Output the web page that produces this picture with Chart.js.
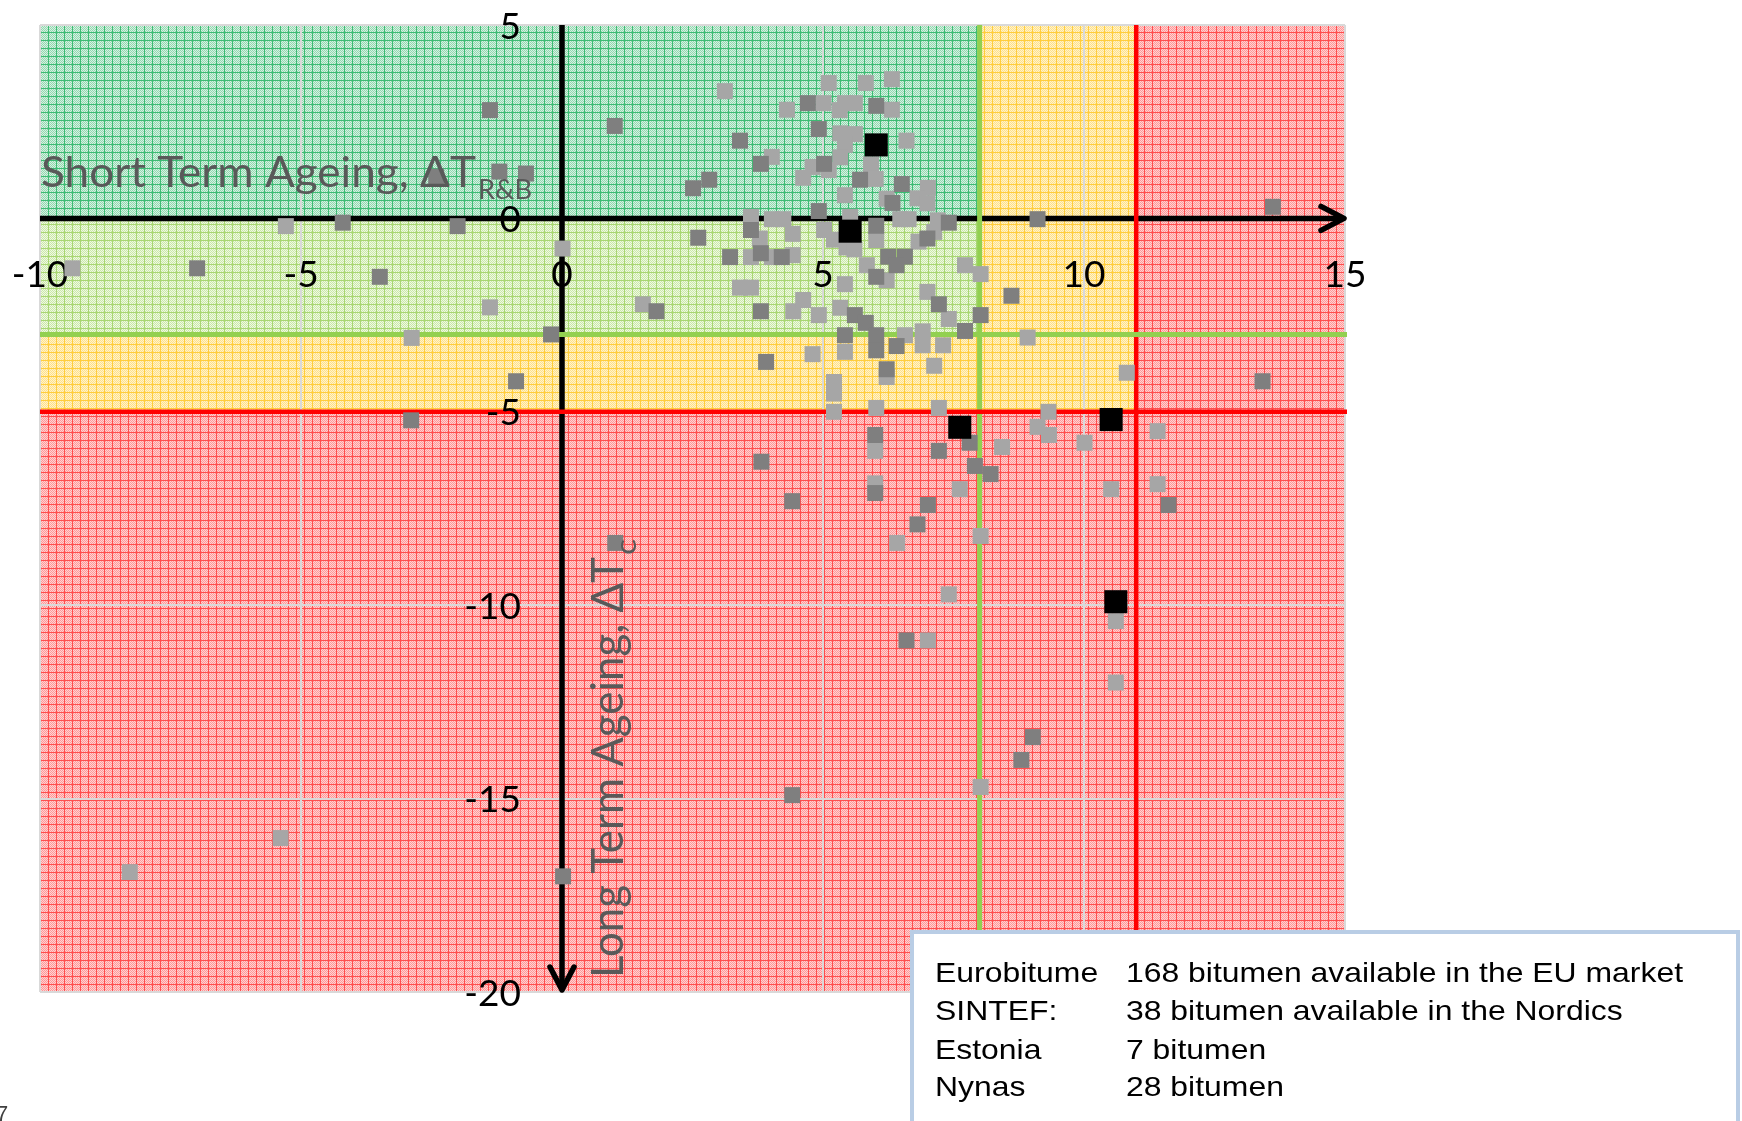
<!DOCTYPE html>
<html>
<head>
<meta charset="utf-8">
<title>Short and long term ageing of bitumen</title>
<script src="https://cdn.jsdelivr.net/npm/chart.js@4.4.1/dist/chart.umd.min.js"></script>
<style>
  html, body { margin: 0; padding: 0; background: #ffffff; overflow: hidden; }
  #wrap { position: relative; width: 1742px; height: 1121px; }
  canvas { display: block; }
</style>
</head>
<body>
<div id="wrap"><canvas id="chart" width="1742" height="1121"></canvas></div>
<script>
// ---- axis ticks -------------------------------------------------------
const xTicks = [-10, -5, 0, 5, 10, 15];
const yTicks = [5, 0, -5, -10, -15, -20];

// ---- ageing limits (°C) -----------------------------------------------
const shortTermGreen = 8;    // ΔT R&B, green/yellow limit
const shortTermRed = 11;     // ΔT R&B, yellow/red limit
const longTermGreen = -3;    // ΔTc, green/yellow limit
const longTermRed = -5;      // ΔTc, yellow/red limit

// ---- bitumen results [ΔT R&B, ΔTc] ------------------------------------
const eurobitume = [
  [3.12, 3.29], [5.11, 3.50], [5.82, 3.50], [6.32, 3.60], [5.01, 2.98], [5.42, 2.98], [5.61, 2.98],
  [5.32, 2.80], [6.32, 2.81], [4.31, 2.81], [5.33, 2.20], [5.61, 2.18], [6.60, 2.01], [5.42, 1.90],
  [4.02, 1.59], [5.33, 1.58], [4.80, 1.33], [5.11, 1.25], [4.62, 1.05], [5.92, 1.40], [6.01, 1.02],
  [7.01, 0.79], [5.42, 0.60], [6.22, 0.51], [6.81, 0.52], [7.00, 0.39], [3.62, 0.04], [4.02, -0.02],
  [4.24, -0.02], [5.52, 0.04], [6.48, -0.02], [6.64, -0.02], [7.20, -0.05], [7.13, -0.35],
  [4.42, -0.40], [4.42, -0.95], [5.02, -0.30], [6.02, -0.56], [6.83, -0.60], [5.21, -0.55],
  [5.45, -0.75], [5.60, -0.80], [3.79, -0.52], [3.62, -1.00], [4.02, -1.00], [5.84, -1.21],
  [6.22, -1.60], [5.42, -1.70], [3.41, -1.79], [3.62, -1.79], [7.72, -1.21], [8.02, -1.44],
  [7.00, -1.90], [7.41, -2.60], [1.55, -2.22], [4.43, -2.40], [4.62, -2.11], [4.92, -2.50],
  [5.33, -2.31], [5.42, -3.45], [6.57, -3.02], [6.91, -2.92], [6.91, -3.28], [7.30, -3.28],
  [4.80, -3.51], [6.22, -4.10], [7.13, -3.81], [5.21, -4.23], [5.21, -4.53], [5.21, -5.00],
  [6.02, -4.90], [7.22, -4.90], [10.82, -3.99], [9.32, -5.00], [9.11, -5.39], [9.33, -5.60],
  [10.01, -5.80], [11.41, -5.50], [6.00, -6.01], [8.43, -5.91], [7.62, -7.00], [10.52, -7.00],
  [11.41, -6.87], [6.00, -6.85], [6.42, -8.39], [8.02, -8.21], [7.41, -9.72], [10.61, -10.41],
  [7.01, -10.91], [10.61, -12.00], [8.02, -14.70], [8.92, -3.08], [-5.29, -0.20], [0.01, -0.78],
  [-9.38, -1.29], [-1.38, -2.30], [-2.88, -3.09], [-5.39, -16.02], [-8.28, -16.90]
];
const nordic = [
  [4.71, 2.98], [6.02, 2.91], [4.92, 2.31], [3.41, 2.01], [3.81, 1.41], [5.02, 1.41], [5.71, 1.00],
  [2.82, 1.00], [2.51, 0.78], [6.51, 0.89], [6.33, 0.40], [4.92, 0.19], [7.41, -0.11], [3.62, -0.30],
  [6.02, -0.19], [2.61, -0.50], [3.22, -1.00], [3.81, -0.90], [4.21, -1.00], [7.00, -0.52],
  [6.25, -0.99], [6.57, -0.99], [6.41, -1.21], [6.02, -1.51], [7.22, -2.22], [7.72, -2.91],
  [8.02, -2.50], [8.61, -2.00], [1.81, -2.40], [3.81, -2.40], [5.61, -2.50], [5.82, -2.70],
  [6.02, -3.02], [6.02, -3.41], [5.42, -3.02], [6.41, -3.30], [3.91, -3.71], [6.22, -3.90],
  [13.42, -4.21], [6.00, -5.60], [7.22, -6.01], [7.81, -5.80], [3.82, -6.29], [7.91, -6.40],
  [8.21, -6.61], [11.62, -7.41], [6.00, -7.10], [4.41, -7.31], [7.01, -7.41], [6.81, -7.91],
  [6.60, -10.91], [9.02, -13.41], [8.80, -14.00], [4.41, -14.91], [13.62, 0.30], [9.11, -0.02],
  [1.01, 2.39], [-1.38, 2.80], [-1.20, 1.21], [-0.69, 1.16], [-2.41, 1.08], [-4.20, -0.11],
  [-2.00, -0.20], [-6.99, -1.29], [-3.49, -1.51], [-0.21, -3.00], [-0.88, -4.21], [-2.89, -5.22],
  [1.02, -8.39], [0.02, -17.01]
];
const estonia = [
  [6.02, 1.90], [5.52, -0.33], [7.62, -5.40], [10.52, -5.20], [10.61, -9.91]
];

// ---- text ---------------------------------------------------------------
const shortTermTitle = 'Short Term Ageing, ΔT';
const shortTermSub = 'R&B';
const longTermTitle = 'Long Term Ageing, ΔT';
const longTermSub = 'c';
const sourceRows = [
  ['Eurobitume', '168 bitumen available in the EU market'],
  ['SINTEF:', '38 bitumen available in the Nordics'],
  ['Estonia', '7 bitumen'],
  ['Nynas', '28 bitumen']
];
const pageNumber = '7';

const toPoints = rows => rows.map(([x, y]) => ({ x, y }));

// Fine grid texture used for the rating zones
function makeTexture(ctx, dot, light, line) {
  const t = document.createElement('canvas');
  t.width = 8; t.height = 8;
  const g = t.getContext('2d');
  for (let i = 0; i < 8; i++) {
    for (let j = 0; j < 8; j++) {
      let c = ((i + j) % 2 === 0) ? dot : light;
      if (i === 0 || j === 0) c = line;
      g.fillStyle = c;
      g.fillRect(i, j, 1, 1);
    }
  }
  return ctx.createPattern(t, 'repeat');
}

const zonesPlugin = {
  id: 'zones',
  beforeDraw(chart) {
    const { ctx, scales: { x, y } } = chart;
    const green = makeTexture(ctx, '#93d8b0', '#d5f1e1', '#3dbb73');
    const lightGreen = makeTexture(ctx, '#cbe9a8', '#eef8e3', '#a8d672');
    const yellow = makeTexture(ctx, '#ffe08a', '#fff3c9', '#ffcd3c');
    const red = makeTexture(ctx, '#ff9898', '#ffd0d0', '#ff4d4d');
    const box = (x0, x1, y0, y1, fill) => {
      const l = x.getPixelForValue(x0), r = x.getPixelForValue(x1);
      const t = y.getPixelForValue(y1), b = y.getPixelForValue(y0);
      ctx.fillStyle = fill;
      ctx.fillRect(l, t, r - l, b - t);
    };
    ctx.save();
    box(x.min, shortTermGreen, 0, y.max, green);
    box(x.min, shortTermGreen, longTermGreen, 0, lightGreen);
    box(x.min, shortTermGreen, longTermRed, longTermGreen, yellow);
    box(shortTermGreen, shortTermRed, longTermRed, y.max, yellow);
    box(x.min, x.max, y.min, longTermRed, red);
    box(shortTermRed, x.max, longTermRed, y.max, red);
    ctx.restore();
  }
};

const FONT = 'Lato, "Open Sans", "DejaVu Sans", sans-serif';

// Axes with arrow heads, limit lines and tick labels
const axesPlugin = {
  id: 'ageingAxes',
  beforeDatasetsDraw(chart) {
    const { ctx, scales: { x, y } } = chart;
    const x0 = x.getPixelForValue(0), y0 = y.getPixelForValue(0);
    const l = x.getPixelForValue(x.min), r = x.getPixelForValue(x.max);
    const t = y.getPixelForValue(y.max), b = y.getPixelForValue(y.min);
    ctx.save();

    // black axes through the origin
    ctx.strokeStyle = '#000000';
    ctx.lineWidth = 5.5;
    ctx.lineCap = 'butt';
    ctx.beginPath();
    ctx.moveTo(l, y0); ctx.lineTo(r - 2, y0);
    ctx.moveTo(x0, t); ctx.lineTo(x0, b - 2);
    ctx.stroke();
    ctx.lineCap = 'round';
    ctx.lineJoin = 'round';
    ctx.beginPath();
    ctx.moveTo(r - 24, y0 - 12); ctx.lineTo(r - 1, y0); ctx.lineTo(r - 24, y0 + 12);
    ctx.moveTo(x0 - 12, b - 25); ctx.lineTo(x0, b - 2); ctx.lineTo(x0 + 12, b - 25);
    ctx.stroke();

    // limit lines
    ctx.lineCap = 'butt';
    const vLine = (v, col, w) => {
      const px = x.getPixelForValue(v);
      ctx.strokeStyle = col; ctx.lineWidth = w;
      ctx.beginPath(); ctx.moveTo(px, t); ctx.lineTo(px, b); ctx.stroke();
    };
    const hLine = (v, col, w) => {
      const py = y.getPixelForValue(v);
      ctx.strokeStyle = col; ctx.lineWidth = w;
      ctx.beginPath(); ctx.moveTo(l, py); ctx.lineTo(r + 2, py); ctx.stroke();
    };
    vLine(shortTermRed, '#ff0000', 4.5);
    vLine(shortTermGreen, '#92d050', 5);
    hLine(longTermRed, '#ff0000', 4.5);
    hLine(longTermGreen, '#92d050', 5);

    // tick labels along the axes
    ctx.fillStyle = '#000000';
    ctx.font = '37px ' + FONT;
    ctx.textBaseline = 'alphabetic';
    ctx.textAlign = 'center';
    xTicks.forEach(v => ctx.fillText(String(v), x.getPixelForValue(v), y0 + 69));
    ctx.textAlign = 'right';
    yTicks.forEach(v => ctx.fillText(String(v), x0 - 41, y.getPixelForValue(v) + 13.5));
    ctx.restore();
  },
  afterDraw(chart) {
    const { ctx } = chart;
    ctx.save();
    const fitted = (text, px, py, size, width, family) => {
      ctx.font = size + 'px ' + family;
      const w = ctx.measureText(text).width;
      ctx.save();
      ctx.translate(px, py);
      ctx.scale(width / w, 1);
      ctx.fillText(text, 0, 0);
      ctx.restore();
    };

    // axis titles
    ctx.fillStyle = '#595959';
    ctx.textAlign = 'left';
    ctx.textBaseline = 'alphabetic';
    fitted(shortTermTitle, 41, 187, 42, 435, FONT);
    fitted(shortTermSub, 478, 199, 26, 54, FONT);

    ctx.save();
    ctx.translate(623, 978);
    ctx.rotate(-Math.PI / 2);
    fitted(longTermTitle, 0, 0, 45, 421, FONT);
    fitted(longTermSub, 423, 13, 28, 16, FONT);
    ctx.restore();

    // source box
    ctx.fillStyle = '#ffffff';
    ctx.fillRect(910, 930, 832, 200);
    ctx.strokeStyle = '#b9cde5';
    ctx.lineWidth = 4;
    ctx.strokeRect(912, 932, 826, 200);

    ctx.fillStyle = '#000000';
    const sansFamily = '"Liberation Sans", Arial, sans-serif';
    ctx.font = '28px ' + sansFamily;
    const stretch = 557 / ctx.measureText(sourceRows[0][1]).width;
    const baselines = [981.5, 1020, 1058.5, 1096];
    sourceRows.forEach((row, i) => {
      [935, 1126].forEach((px, k) => {
        ctx.save();
        ctx.translate(px, baselines[i]);
        ctx.scale(stretch, 1);
        ctx.fillText(row[k], 0, 0);
        ctx.restore();
      });
    });

    // page number
    ctx.fillStyle = '#404040';
    ctx.font = '22px ' + sansFamily;
    ctx.fillText(pageNumber, -4, 1121);
    ctx.restore();
  }
};

const square = (data, label, colour, radius) => ({
  label,
  data: toPoints(data),
  backgroundColor: colour,
  borderWidth: 0,
  pointStyle: 'rect',
  pointRadius: radius,
  pointHoverRadius: radius
});

new Chart(document.getElementById('chart'), {
  type: 'scatter',
  data: {
    datasets: [
      square(estonia, 'Estonia', '#000000', 16.3),
      square(nordic, 'SINTEF / Nynas', '#7f7f7f', 11.3),
      square(eurobitume, 'Eurobitume', '#a6a6a6', 11.3)
    ]
  },
  options: {
    responsive: false,
    animation: false,
    devicePixelRatio: 1,
    layout: { padding: { left: 40, top: 25, right: 397, bottom: 129 } },
    plugins: { legend: { display: false }, tooltip: { enabled: false }, title: { display: false } },
    scales: {
      x: {
        type: 'linear', min: -10, max: 15,
        ticks: { stepSize: 5, display: false },
        grid: { color: '#d9d9d9', lineWidth: 2, drawTicks: false },
        border: { display: false }
      },
      y: {
        type: 'linear', min: -20, max: 5,
        ticks: { stepSize: 5, display: false },
        grid: { color: '#d9d9d9', lineWidth: 2, drawTicks: false },
        border: { display: false }
      }
    }
  },
  plugins: [zonesPlugin, axesPlugin]
});
</script>
</body>
</html>
